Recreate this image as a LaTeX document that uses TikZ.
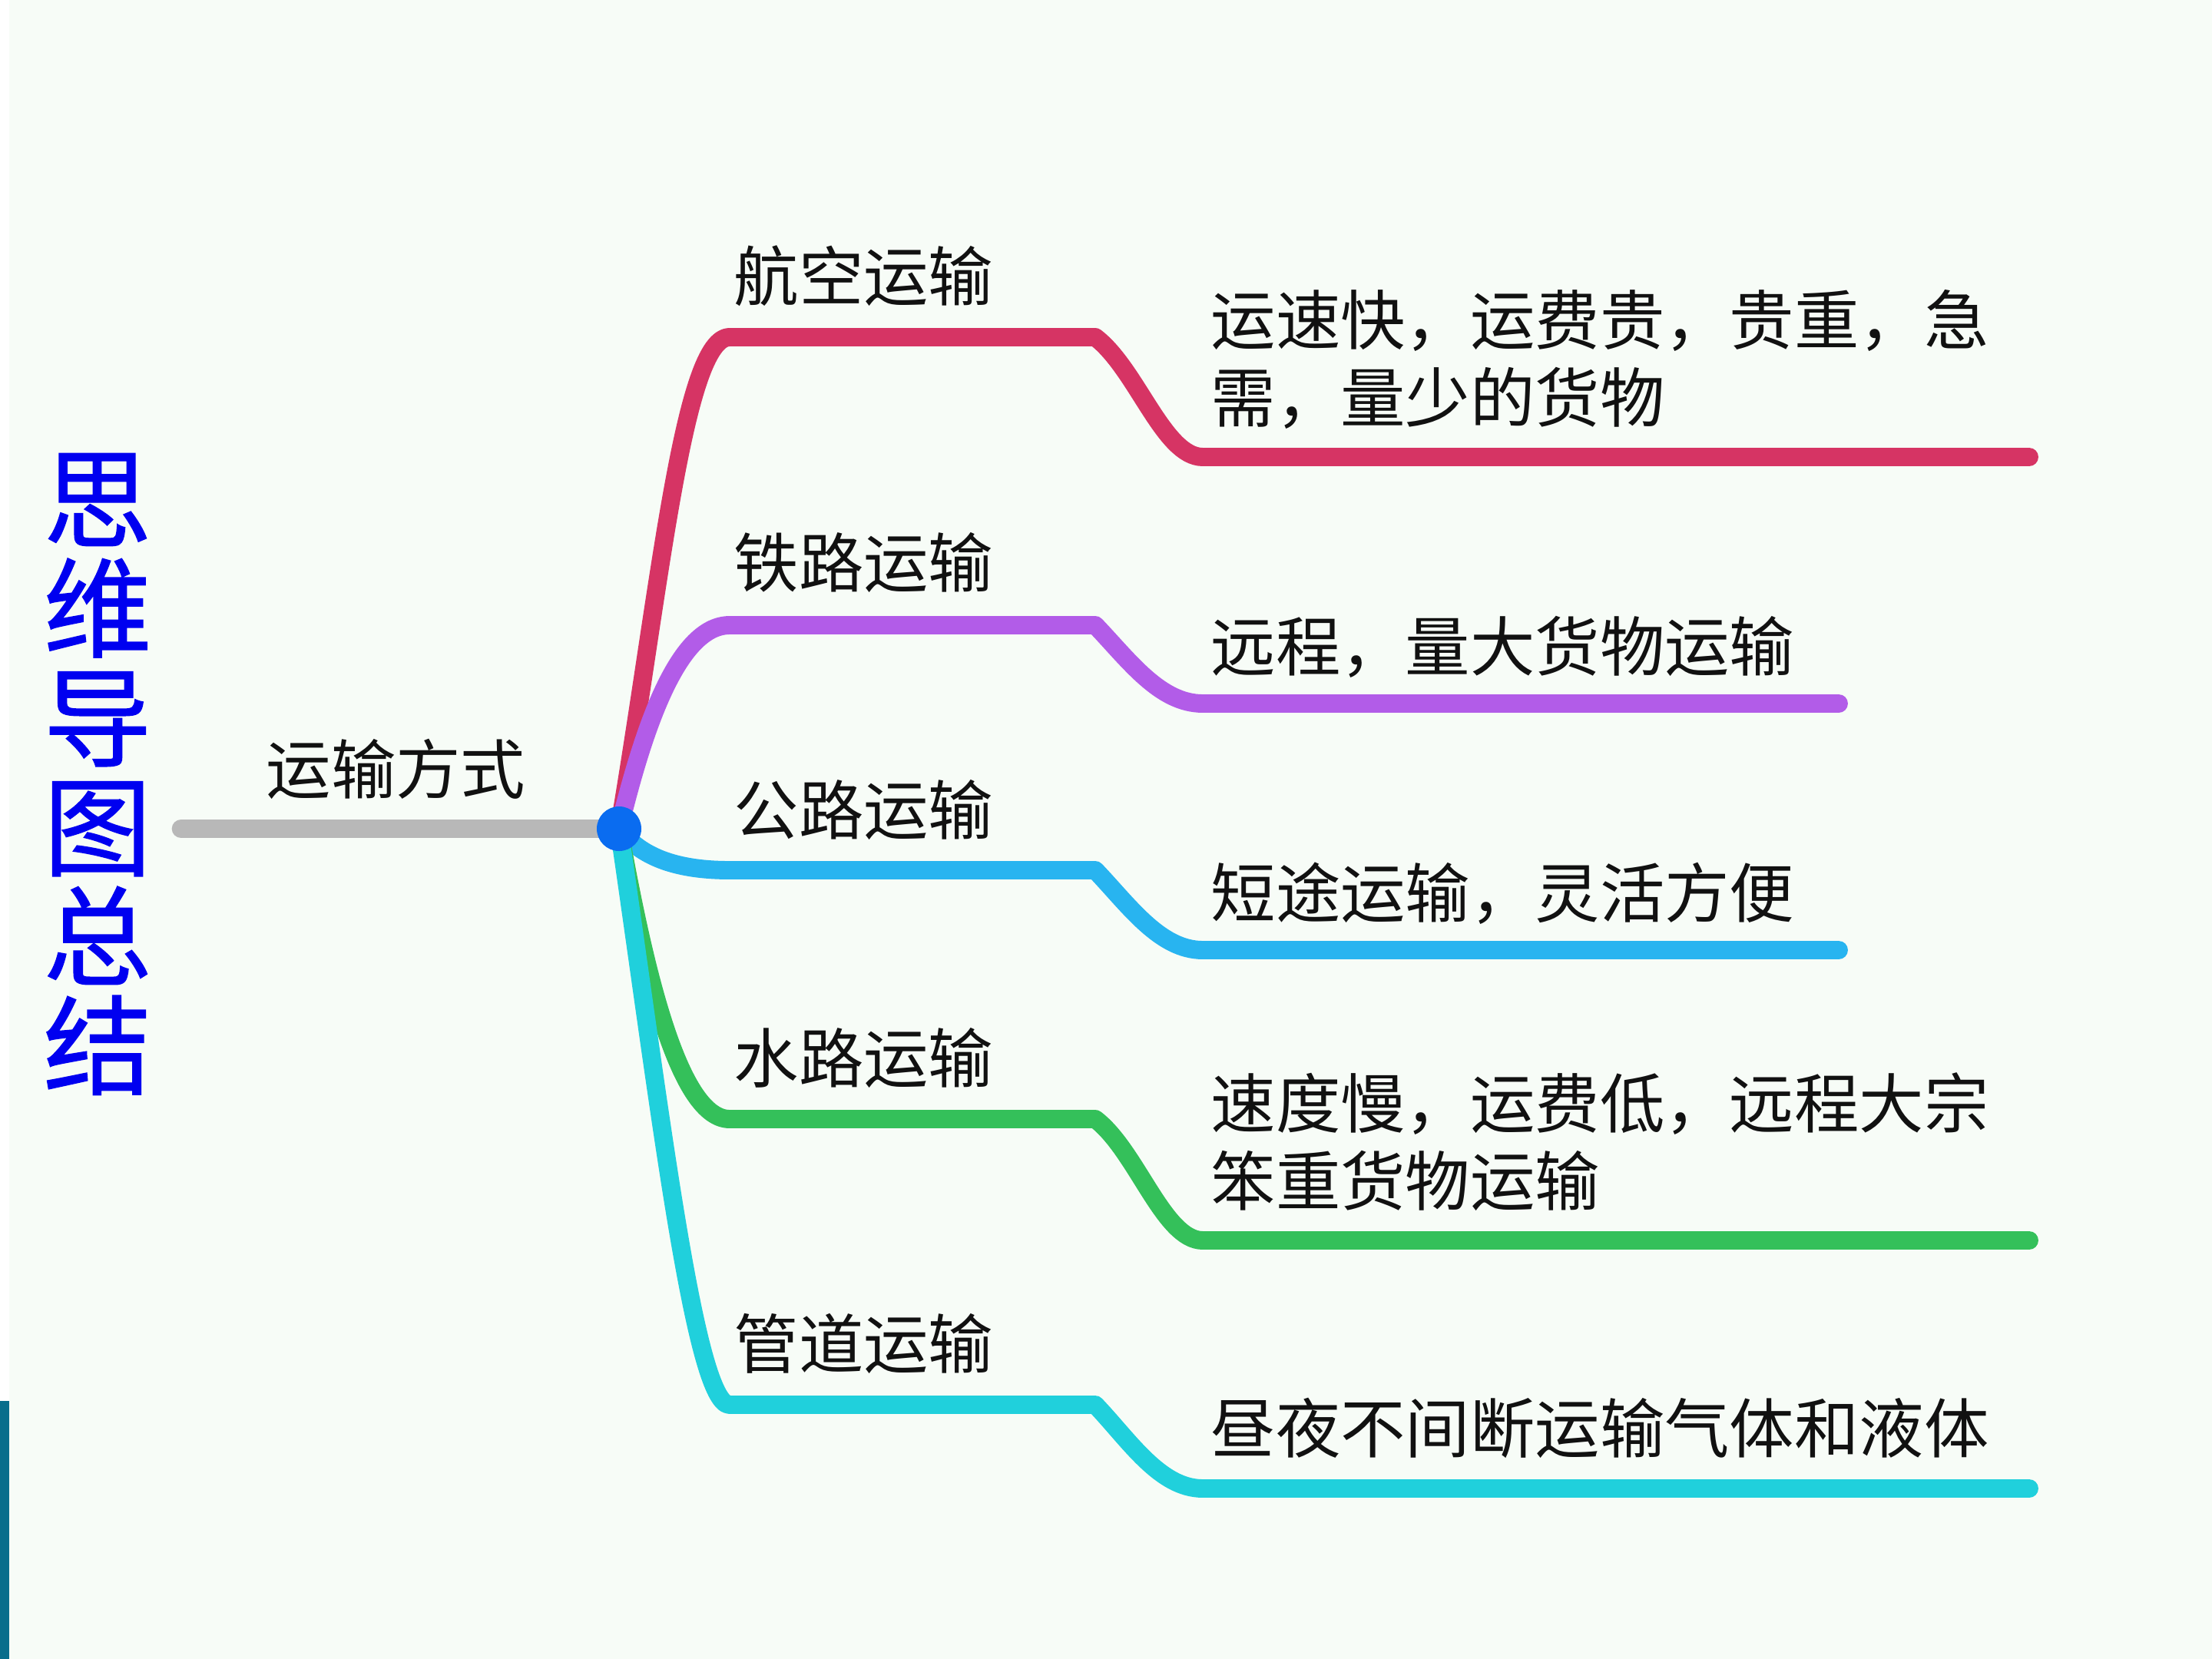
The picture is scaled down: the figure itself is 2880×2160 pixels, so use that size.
\documentclass[tikz,border=0pt]{standalone}
\usepackage{fontspec}
\newfontfamily\cjk{Noto Sans CJK SC}
\newfontfamily\cjkb[FakeBold=1]{Noto Sans CJK SC}
\definecolor{bgc}{RGB}{247,252,247}
\definecolor{barc}{RGB}{8,110,140}
\definecolor{redc}{RGB}{214,52,100}
\definecolor{purc}{RGB}{178,92,232}
\definecolor{bluc}{RGB}{40,180,240}
\definecolor{grnc}{RGB}{52,192,90}
\definecolor{cyac}{RGB}{32,208,220}
\definecolor{gryc}{RGB}{184,184,184}
\definecolor{dotc}{RGB}{10,108,240}
\definecolor{ttlc}{RGB}{0,0,240}
\definecolor{txtc}{RGB}{17,17,17}
\begin{document}
\begin{tikzpicture}[x=0.01cm,y=-0.01cm,
  branch/.style={line width=6.8pt,line cap=round,line join=round},
  lbl/.style={font=\cjk\fontsize{24}{28}\selectfont, inner sep=0pt, anchor=base west, text=txtc},
  ttl/.style={font=\cjkb\fontsize{40}{40.5}\selectfont, align=center, inner sep=0pt, text=ttlc},
  hubdot/.style={circle, fill=dotc, inner sep=0pt, minimum size=16.5pt},
]
\useasboundingbox (0,0) rectangle (2880,2160);
\fill[white] (0,0) rectangle (2880,2160);
\fill[bgc] (12,0) rectangle (2880,2160);
\fill[barc] (0,1824) rectangle (12,2160);

% title
\node[ttl] (title) at (127,1008) {思\\维\\导\\图\\总\\结};

% root
\coordinate (hubc) at (806,1079);
\coordinate (gs) at (236,1079);
\node[lbl] (root) at (346,1033) {运输方式};
\draw[branch, gryc, line width=7pt] (gs) -- (hubc);

% coordinates
\coordinate (r1) at (950,439);  \coordinate (r2) at (1426,439);  \coordinate (r3) at (1566,595);  \coordinate (r4) at (2642,595);
\coordinate (p1) at (950,814);  \coordinate (p2) at (1426,814);  \coordinate (p3) at (1566,916);  \coordinate (p4) at (2394,916);
\coordinate (b1) at (950,1133); \coordinate (b2) at (1426,1133); \coordinate (b3) at (1566,1237); \coordinate (b4) at (2394,1237);
\coordinate (g1) at (950,1457); \coordinate (g2) at (1426,1457); \coordinate (g3) at (1566,1615); \coordinate (g4) at (2642,1615);
\coordinate (c1) at (950,1829); \coordinate (c2) at (1426,1829); \coordinate (c3) at (1566,1938); \coordinate (c4) at (2642,1938);

% branches
\draw[branch, redc] (hubc) .. controls +(54,-319) and +(-60,0) .. (r1) -- (r2)
  .. controls +(54,41) and +(-51,0) .. (r3) -- (r4);
\draw[branch, purc] (hubc) .. controls +(29,-119) and +(-70,0) .. (p1) -- (p2)
  .. controls +(44,46) and +(-56,0) .. (p3) -- (p4);
\draw[branch, bluc] (hubc) .. controls +(24,31) and +(-80,0) .. (b1) -- (b2)
  .. controls +(44,46) and +(-56,0) .. (b3) -- (b4);
\draw[branch, grnc] (hubc) .. controls +(34,191) and +(-65,0) .. (g1) -- (g2)
  .. controls +(54,41) and +(-51,0) .. (g3) -- (g4);
\draw[branch, cyac] (hubc) .. controls +(54,371) and +(-45,0) .. (c1) -- (c2)
  .. controls +(44,46) and +(-56,0) .. (c3) -- (c4);

\node[hubdot] (hub) at (hubc) {};

% branch labels
\node[lbl] (air)   at (955,391)  {航空运输};
\node[lbl] (rail)  at (955,764)  {铁路运输};
\node[lbl] (road)  at (955,1086) {公路运输};
\node[lbl] (water) at (955,1409) {水路运输};
\node[lbl] (pipe)  at (955,1781) {管道运输};

% details
\node[lbl] (airA)   at (1576,448)  {运速快，运费贵，贵重，急};
\node[lbl] (airB)   at (1576,549)  {需，量少的货物};
\node[lbl] (railA)  at (1576,873)  {远程，量大货物运输};
\node[lbl] (roadA)  at (1576,1194) {短途运输，灵活方便};
\node[lbl] (waterA) at (1576,1468) {速度慢，运费低，远程大宗};
\node[lbl] (waterB) at (1576,1569) {笨重货物运输};
\node[lbl] (pipeA)  at (1576,1891) {昼夜不间断运输气体和液体};
\end{tikzpicture}
\end{document}
